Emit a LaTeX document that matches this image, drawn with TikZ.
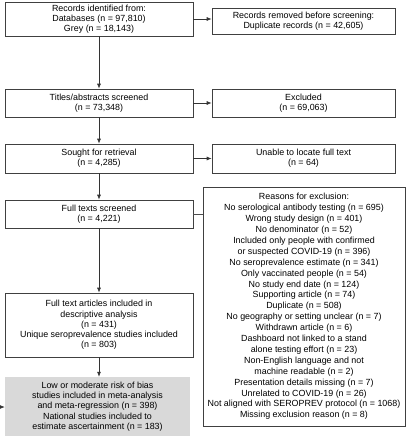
\documentclass[tikz,border=0pt]{standalone}
\usepackage{fontspec}
\setmainfont{Liberation Sans}
\usetikzlibrary{arrows.meta}
\begin{document}
\begin{tikzpicture}[x=1pt,y=-1pt,
  box/.style={draw=black!75,line width=0.7pt,align=center,inner sep=0pt,
    font=\fontsize{8.9}{10.2}\selectfont},
  reasonbox/.style={box,font=\fontsize{8.9}{10.9}\selectfont},
  graybox/.style={fill=black!15,align=center,inner sep=0pt,
    font=\fontsize{8.9}{10.2}\selectfont},
  arr/.style={draw=black!80,line width=0.7pt,-{Latex[length=5pt,width=4pt]}},
  ln/.style={draw=black!70,line width=0.7pt}]
\useasboundingbox (0,0) rectangle (406,440);
\node[box,minimum width=188pt,minimum height=34pt] (rec) at (99,19)
  {Records identified from:\\Databases (n = 97,810)\\Grey (n = 18,143)};
\node[box,minimum width=183pt,minimum height=26pt] (dup) at (303.5,21)
  {Records removed before screening:\\Duplicate records (n = 42,605)};
\node[box,minimum width=188pt,minimum height=28pt] (tit) at (99,103)
  {Titles/abstracts screened\\(n = 73,348)};
\node[box,minimum width=183pt,minimum height=28pt] (exc) at (303.5,103)
  {Excluded\\(n = 69,063)};
\node[box,minimum width=188pt,minimum height=29pt] (sou) at (99,158.5)
  {Sought for retrieval\\(n = 4,285)};
\node[box,minimum width=183pt,minimum height=29pt] (una) at (303.5,158.5)
  {Unable to locate full text\\(n = 64)};
\node[box,minimum width=188pt,minimum height=28pt] (ful) at (99,214)
  {Full texts screened\\(n = 4,221)};
\node[reasonbox,minimum width=202pt,minimum height=239pt] (rea) at (304,306.5)
  {Reasons for exclusion:\\
   No serological antibody testing (n = 695)\\
   Wrong study design (n = 401)\\
   No denominator (n = 52)\\
   Included only people with confirmed\\
   or suspected COVID-19 (n = 396)\\
   No seroprevalence estimate (n = 341)\\
   Only vaccinated people (n = 54)\\
   No study end date (n = 124)\\
   Supporting article (n = 74)\\
   Duplicate (n = 508)\\
   No geography or setting unclear (n = 7)\\
   Withdrawn article (n = 6)\\
   Dashboard not linked to a stand\\
   alone testing effort (n = 23)\\
   Non-English language and not\\
   machine readable (n = 2)\\
   Presentation details missing (n = 7)\\
   Unrelated to COVID-19 (n = 26)\\
   Not aligned with SEROPREV protocol (n = 1068)\\
   Missing exclusion reason (n = 8)};
\node[box,minimum width=188pt,minimum height=64pt] (inc) at (99,325)
  {Full text articles included in\\descriptive analysis\\(n = 431)\\
   Unique seroprevalence studies included\\(n = 803)};
\node[graybox,minimum width=185pt,minimum height=59pt] (low) at (97.5,406.5)
  {Low or moderate risk of bias\\studies included in meta-analysis\\
   and meta-regression (n = 398)\\National studies included to\\
   estimate ascertainment (n = 183)};
\coordinate (stub) at (-8,407);
\draw[arr] (rec.east) -- (rec.east -| dup.west);
\draw[arr] (tit.east) -- (exc.west);
\draw[arr] (sou.east) -- (una.west);
\draw[ln] (ful.east) -- (ful.east -| rea.west);
\draw[arr] (rec.south) -- (tit.north);
\draw[arr] (tit.south) -- (sou.north);
\draw[arr] (sou.south) -- (ful.north);
\draw[arr] (ful.south) -- (inc.north);
\draw[arr] (inc.south) -- (low.north -| inc.south);
\draw[arr] (stub) -- (stub -| low.west);
\end{tikzpicture}
\end{document}
